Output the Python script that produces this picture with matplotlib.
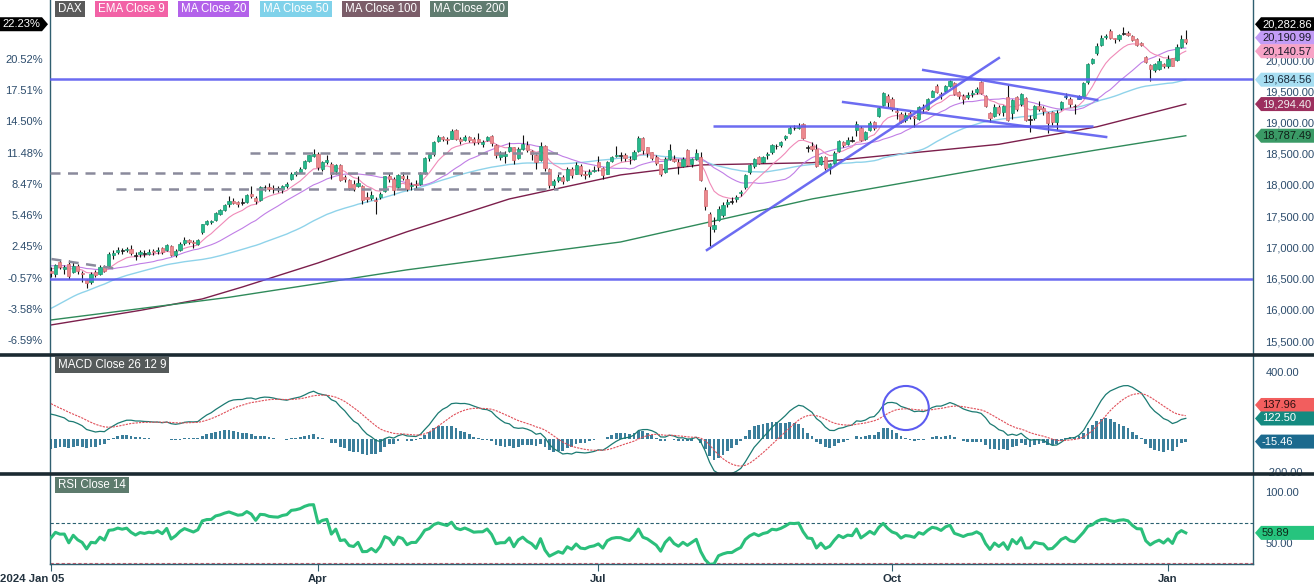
import numpy as np
import pandas as pd
import matplotlib
matplotlib.use('Agg')
import matplotlib.pyplot as plt
from matplotlib.patches import Rectangle, Polygon, Ellipse
from matplotlib.lines import Line2D
from matplotlib.transforms import blended_transform_factory, ScaledTranslation

plt.rcParams['font.family'] = ['Liberation Sans', 'DejaVu Sans']

# ---- data (DAX daily, 2024-01-05 .. 2025-01-08) ----
# closes before the window, only used to warm up the indicators
pre_close = [15247, 15085, 15099, 15070, 15229, 15128, 15424, 15460, 15425, 15186,
             15237, 15251, 15095, 15045, 14798, 14800, 14879, 14892, 14731, 14687,
             14716, 14810,
             14923, 15144, 15189, 15136, 15153, 15229, 15353, 15234, 15345, 15615,
             15748, 15786, 15919, 15901, 15900, 15957, 15994, 16029, 15966, 15992,
             16166, 16215,
             16398, 16405, 16533, 16656, 16628, 16759, 16794, 16792, 16766, 16696,
             16751, 16650, 16744, 16733, 16687, 16706, 16742, 16701, 16752,
             16769, 16538, 16617]

opens = [16617, 16580, 16760, 16650, 16730, 16600, 16700, 16590, 16470, 16440, 16600, 16580, 16700, 16700, 16880, 16930, 16950, 16960, 16980,
         16870, 16900, 16900, 16900, 16940, 16940, 16990, 16960, 17020, 16880, 16960, 17070, 17120, 17080, 17060, 17240, 17380, 17400, 17440, 17540, 17600,
         17690, 17750, 17720, 17720, 17730, 17860, 17790, 17760, 17960, 17970, 17950, 17940, 17930, 17990, 18100, 18170, 18200, 18270, 18390, 18470,
         18490, 18260, 18370, 18340, 18220, 18320, 18130, 18080, 18010, 17990, 17990, 17800, 17790, 17760, 17800, 17900, 18140, 18100, 17970, 18150, 18100,
         17980, 18020, 18020, 18190, 18430, 18500, 18700, 18770, 18740, 18740, 18880, 18740, 18720, 18760, 18740, 18730, 18660, 18720, 18790, 18640, 18450, 18470,
         18540, 18600, 18430, 18580, 18640, 18540, 18480, 18400, 18630, 18250, 18000, 18080, 18130, 18080, 18250, 18180, 18300, 18180, 18170, 18220,
         18370, 18270, 18180, 18380, 18460, 18470, 18480, 18420, 18420, 18540, 18750, 18600, 18520, 18440, 18330, 18200, 18420, 18420, 18360, 18300, 18560, 18330, 18420,
         18450, 17920, 17530, 17300, 17440, 17520, 17690, 17730, 17770, 17870, 17960, 18210, 18300, 18440, 18370, 18480, 18530, 18620, 18640, 18750, 18830, 18910,
         18910, 18980, 18600, 18620, 18570, 18330, 18440, 18290, 18350, 18540, 18680, 18650, 18720, 18880, 18910, 18740, 18880, 19000, 19100, 19280, 19420,
         19380, 19180, 19140, 19040, 19150, 19080, 19060, 19230, 19220, 19410, 19590, 19450, 19510, 19580, 19630, 19480, 19420, 19400, 19450, 19480, 19640, 19420, 19150,
         19100, 19240, 19160, 19400, 19150, 19400, 19290, 19390, 19050, 19070, 19270, 19230, 19150, 19170, 19010, 19230, 19420, 19380, 19260, 19380, 19430,
         19650, 19950, 20110, 20240, 20370, 20470, 20350, 20330, 20420, 20440, 20390, 20340, 20270, 20050, 19920, 19840, 19850, 19930,
         19900, 20030, 20000, 20210, 20340]

highs = [16680, 16730, 16800, 16720, 16800, 16770, 16740, 16620, 16500, 16600, 16640, 16710, 16720, 16930, 16950, 17000, 16990, 17010, 17030,
         16920, 16950, 16960, 16980, 16980, 17000, 17010, 17060, 17040, 16970, 17080, 17160, 17130, 17110, 17130, 17380, 17430, 17440, 17570, 17610, 17700,
         17820, 17790, 17740, 17790, 17860, 17990, 17820, 17980, 18000, 18030, 18000, 17980, 18000, 18040, 18200, 18230, 18280, 18400, 18480, 18570,
         18530, 18380, 18480, 18360, 18330, 18330, 18160, 18100, 18080, 18140, 18000, 17880, 17900, 17800, 17890, 18150, 18190, 18120, 18180, 18200, 18160,
         18050, 18080, 18200, 18450, 18510, 18700, 18800, 18790, 18760, 18890, 18890, 18760, 18800, 18790, 18770, 18830, 18720, 18790, 18800, 18650, 18540, 18550,
         18690, 18610, 18600, 18800, 18700, 18560, 18500, 18680, 18640, 18270, 18100, 18180, 18160, 18280, 18280, 18360, 18330, 18230, 18250, 18300,
         18460, 18290, 18390, 18470, 18620, 18520, 18510, 18470, 18560, 18780, 18760, 18610, 18530, 18480, 18340, 18440, 18660, 18480, 18420, 18450, 18570, 18430, 18580,
         18530, 17960, 17570, 17480, 17660, 17720, 17780, 17800, 17840, 17920, 18180, 18330, 18430, 18460, 18470, 18520, 18650, 18650, 18700, 18800, 18940, 18960,
         18990, 18990, 18640, 18680, 18650, 18460, 18470, 18350, 18540, 18720, 18700, 18760, 18790, 19020, 18940, 18870, 19020, 19020, 19250, 19490, 19450,
         19410, 19230, 19170, 19160, 19190, 19110, 19270, 19290, 19390, 19520, 19620, 19490, 19600, 19675, 19640, 19510, 19460, 19480, 19520, 19560, 19660, 19440, 19170,
         19290, 19280, 19280, 19600, 19380, 19420, 19470, 19400, 19120, 19280, 19340, 19260, 19160, 19180, 19200, 19340, 19470, 19400, 19290, 19440, 19640,
         19960, 20040, 20270, 20400, 20420, 20490, 20360, 20420, 20530, 20460, 20400, 20350, 20290, 20070, 19930, 19960, 20030, 19950,
         20080, 20040, 20260, 20400, 20480]

lows = [16531, 16520, 16660, 16570, 16500, 16590, 16580, 16450, 16345, 16420, 16520, 16560, 16600, 16690, 16820, 16900, 16900, 16920, 16880,
        16800, 16850, 16850, 16880, 16880, 16900, 16900, 16940, 16860, 16850, 16940, 17040, 17060, 16990, 17040, 17220, 17350, 17380, 17420, 17520, 17590,
        17650, 17690, 17650, 17680, 17710, 17790, 17700, 17740, 17900, 17900, 17870, 17890, 17870, 17950, 18080, 18140, 18190, 18260, 18370, 18440,
        18240, 18230, 18340, 18100, 18180, 18060, 18040, 17920, 17900, 17970, 17700, 17730, 17760, 17540, 17780, 17880, 18050, 17840, 17950, 18080, 17900,
        17920, 17950, 18000, 18180, 18390, 18470, 18680, 18700, 18650, 18730, 18720, 18650, 18700, 18680, 18640, 18660, 18600, 18700, 18620, 18430, 18400, 18350,
        18520, 18330, 18410, 18560, 18530, 18400, 18260, 18390, 18220, 17950, 17950, 18040, 18020, 18060, 18110, 18170, 18150, 18100, 18130, 18210,
        18230, 18100, 18170, 18360, 18440, 18380, 18380, 18340, 18400, 18530, 18500, 18450, 18400, 18320, 18140, 18190, 18400, 18360, 18180, 18290, 18300, 18290, 18400,
        18060, 17600, 17024, 17250, 17420, 17480, 17640, 17700, 17720, 17830, 17940, 18180, 18270, 18340, 18350, 18420, 18500, 18580, 18600, 18720, 18810, 18880,
        18900, 18740, 18520, 18540, 18290, 18320, 18240, 18180, 18340, 18530, 18600, 18640, 18690, 18780, 18700, 18720, 18860, 18880, 19080, 19270, 19250,
        19180, 19060, 18990, 19000, 19060, 18930, 19040, 19150, 19200, 19400, 19470, 19380, 19490, 19560, 19440, 19380, 19300, 19370, 19400, 19450, 19460, 19240, 19000,
        19080, 19120, 19110, 19020, 19050, 19180, 19260, 19020, 18850, 19040, 19180, 19120, 18830, 18960, 18880, 19200, 19380, 19250, 19140, 19370, 19420,
        19620, 19930, 20080, 20220, 20340, 20330, 20280, 20310, 20400, 20380, 20300, 20230, 20230, 19950, 19660, 19800, 19840, 19880,
        19880, 19900, 19990, 20190, 20260]

closes = [16594.21, 16716, 16688, 16690, 16547, 16705, 16622, 16572, 16432, 16567, 16555, 16683, 16627, 16890, 16906, 16961, 16942, 16972, 16904,
          16859, 16918, 16904, 16931, 16922, 16964, 16927, 17037, 16881, 16946, 17047, 17117, 17092, 17068, 17118, 17370, 17419, 17424, 17556, 17601, 17678,
          17735, 17716, 17698, 17716, 17842, 17815, 17746, 17965, 17961, 17942, 17936, 17933, 17987, 18015, 18179, 18206, 18261, 18384, 18477, 18492,
          18283, 18367, 18403, 18175, 18318, 18077, 18097, 17954, 17930, 18027, 17766, 17770, 17837, 17737, 17860, 18137, 18088, 17917, 18161, 18118, 17932,
          18001, 18002, 18175, 18430, 18498, 18686, 18773, 18742, 18716, 18869, 18738, 18704, 18768, 18727, 18680, 18691, 18693, 18774, 18677, 18473, 18496, 18498,
          18608, 18405, 18576, 18653, 18557, 18494, 18369, 18630, 18265, 18002, 18068, 18131, 18067, 18254, 18163, 18325, 18177, 18155, 18211, 18235,
          18291, 18164, 18374, 18450, 18475, 18472, 18430, 18407, 18534, 18748, 18560, 18518, 18437, 18354, 18171, 18407, 18558, 18387, 18298, 18418, 18320, 18411, 18508,
          18083, 17661, 17339, 17354, 17615, 17680, 17723, 17726, 17812, 17885, 18166, 18322, 18421, 18357, 18448, 18493, 18633, 18617, 18681, 18782, 18912, 18906,
          18930, 18747, 18592, 18576, 18301, 18443, 18265, 18330, 18518, 18699, 18633, 18726, 18711, 18977, 18720, 18847, 18997, 18918, 19238, 19474, 19325,
          19213, 19164, 19015, 19121, 19104, 19066, 19254, 19210, 19373, 19508, 19486, 19432, 19583, 19657, 19461, 19421, 19378, 19443, 19464, 19531, 19479, 19257, 19078,
          19254, 19148, 19256, 19039, 19362, 19215, 19448, 19033, 19039, 19263, 19211, 19189, 18988, 19004, 19146, 19323, 19406, 19295, 19262, 19425, 19626,
          19934, 20017, 20232, 20359, 20385, 20346, 20329, 20399, 20426, 20405, 20314, 20246, 20242, 19969, 19850, 19930, 19984, 19909,
          20024, 19906, 20216, 20340, 20282.86]

blue_bars = [228, 231]

# long moving averages (bar index -> value)
ma100_idx = [0, 20, 34, 43, 60, 80, 103, 128, 146, 171, 213, 235, 255]
ma100_val = [15757, 15990, 16174, 16365, 16750, 17250, 17775, 18160, 18320, 18355, 18650, 18930, 19294.40]
ma200_idx = [0, 40, 80, 128, 171, 213, 235, 255]
ma200_val = [15837, 16200, 16640, 17086, 17775, 18300, 18560, 18787.49]

tick_idx = [0, 60, 123, 189, 251]
tick_lbl = ['2024 Jan 05', 'Apr', 'Jul', 'Oct', 'Jan']
price_ticks = [15500, 16000, 16500, 17000, 17500, 18000, 18500, 19000, 19500, 20000]
macd_ticks = [-200, 400]
rsi_ticks = [50, 100]

# last values shown in the side tags
last_close = 20282.86
last_ma20 = 20190.99
last_ema9 = 20140.57
last_ma50 = 19684.56
last_ma100 = 19294.40
last_ma200 = 18787.49
last_signal = 137.96
last_macd = 122.50
last_hist = -15.46
last_rsi = 59.89

# drawn lines (bar index, price)
h_levels = [19688, 16493]
h_segment = (148.8, 234.2, 18943)
trend_lines = [((147.4, 16957), (213.0, 20032)),
               ((196.0, 19840), (235.1, 19359)),
               ((178.0, 19327), (237.1, 18767))]
dash_levels = [(44.7, 113.9, 18511), (-0.2, 114.6, 18190), (14.6, 113.9, 17942)]
dash_slope = ((0.1, 16813), (15.1, 16653))
macd_circle = (192.1, 185, 10.3, 263)

# ---- indicators ----
full = pd.Series(pre_close + closes, dtype=float)
n0 = len(pre_close)
ema9 = full.ewm(span=9, adjust=False).mean().values[n0:]
ma20 = full.rolling(20).mean().values[n0:]
ma50 = full.rolling(50, min_periods=1).mean().values[n0:]
macd = (full.ewm(span=12, adjust=False).mean() - full.ewm(span=26, adjust=False).mean())
signal = macd.ewm(span=9, adjust=False).mean()
hist = (macd - signal).values[n0:]
macd = macd.values[n0:]
signal = signal.values[n0:]
delta = full.diff()
gain = delta.clip(lower=0).ewm(alpha=1/14, adjust=False).mean()
loss = (-delta.clip(upper=0)).ewm(alpha=1/14, adjust=False).mean()
rsi = (100 - 100 / (1 + gain / loss)).values[n0:]

# ---- figure ----
W, H = 1314, 585
fig = plt.figure(figsize=(W / 100, H / 100), dpi=100)


def fx(px):
    return px / W


def fy(py):
    return 1 - py / H


L, R = 50, 1253
ax1 = fig.add_axes([fx(L), fy(355), fx(R - L), 355 / H])
ax2 = fig.add_axes([fx(L), fy(474), fx(R - L), 119 / H])
ax3 = fig.add_axes([fx(L), fy(564), fx(R - L), 90 / H])

AXC = '#2f5f70'
LBL = '#2c4c6c'
for a in (ax1, ax2, ax3):
    a.set_xlim(-0.22, 270.1)
    for s in a.spines.values():
        s.set_color(AXC)
        s.set_linewidth(1)
    a.spines['top'].set_visible(False)
    a.yaxis.tick_right()
    a.tick_params(axis='y', length=0, pad=9, labelsize=8, labelcolor=LBL)
    a.set_facecolor('white')
ax1.spines['bottom'].set_visible(False)
ax2.spines['bottom'].set_visible(False)
ax1.set_xticks([])
ax2.set_xticks([])

x = np.arange(len(closes))
o = np.array(opens, float)
c = np.array(closes, float)
hi = np.array(highs, float)
lo = np.array(lows, float)

# candles
face = np.where(c > o, '#27b88c', '#ec898e').astype(object)
edge = np.where(c > o, '#1c9a72', '#d46c74').astype(object)
face[np.abs(c - o) < 12] = '#222222'
edge[np.abs(c - o) < 12] = '#222222'
face[blue_bars] = '#3b76d6'
edge[blue_bars] = '#2c5fb5'
ax1.vlines(x, lo, hi, color='#111111', lw=0.8, zorder=3)
ax1.bar(x, np.maximum(np.abs(c - o), 10), bottom=np.minimum(o, c), width=0.72,
        color=list(face), edgecolor=list(edge), lw=0.5, zorder=4)

# moving averages
ax1.plot(ma100_idx, ma100_val, color='#7c1f4c', lw=1.0, zorder=2)
ax1.plot(ma200_idx, ma200_val, color='#2f8a5a', lw=1.0, zorder=2)
ax1.plot(x, ma50, color='#8fd3ea', lw=1.0, zorder=2)
ax1.plot(x, ma20, color='#c07ee6', lw=0.8, zorder=2)
ax1.plot(x, ema9, color='#f08ab8', lw=0.8, zorder=2)

# drawings
BLUE = '#5c5cf0'
for lv in h_levels:
    ax1.axhline(lv, color=BLUE, lw=1.8, alpha=0.9, zorder=5)
ax1.hlines(h_segment[2], h_segment[0], h_segment[1], color=BLUE, lw=1.8, alpha=0.9, zorder=5)
for (xa, ya), (xb, yb) in trend_lines:
    ax1.plot([xa, xb], [ya, yb], color=BLUE, lw=1.8, alpha=0.9, zorder=5)
for xa, xb, lv in dash_levels:
    ax1.hlines(lv, xa, xb, color='#8a8a9c', lw=1.8, linestyles=(0, (4, 3)), zorder=5)
ax1.plot([dash_slope[0][0], dash_slope[1][0]], [dash_slope[0][1], dash_slope[1][1]],
         color='#8a8a9c', lw=1.8, ls=(0, (4, 3)), zorder=5)

ax1.set_ylim(15276, 20961)
ax1.set_yticks(price_ticks)
ax1.set_yticklabels([f'{p:,.2f}' for p in price_ticks])
base = closes[0]
tr = blended_transform_factory(ax1.transAxes, ax1.transData)
for p in price_ticks:
    ax1.text(-0.006, p, f'{(p / base - 1) * 100:.2f}%', transform=tr, ha='right', va='center',
             fontsize=8, color=LBL, clip_on=False)

# MACD
ax2.bar(x, hist, width=0.62, color='#3b7e9b', zorder=2)
ax2.plot(x, macd, color='#1b7a72', lw=0.9, zorder=3)
ax2.plot(x, signal, color='#e0505a', lw=0.8, ls=(0, (2, 1)), zorder=3)
cx, cy, cw, ch = macd_circle
ax2.add_patch(Ellipse((cx, cy), cw, ch, fill=False, ec=BLUE, lw=1.5, zorder=5))
ax2.set_ylim(-209, 501.5)
ax2.set_yticks(macd_ticks)
ax2.set_yticklabels([f'{v:.2f}' for v in macd_ticks])

# RSI
ax3.plot(x, rsi, color='#2bbf7b', lw=2.2, zorder=3)
ax3.axhline(70, color='#2a6070', lw=0.8, ls=(0, (3, 2)))
ax3.axhline(30, color='#d06070', lw=0.8, ls=(0, (3, 2)))
ax3.set_ylim(29.4, 117.6)
ax3.set_yticks(rsi_ticks)
ax3.set_yticklabels([f'{v:.2f}' for v in rsi_ticks])
ax3.set_xticks(tick_idx)
ax3.set_xticklabels(tick_lbl, fontsize=8.2, fontweight='bold', color='#22323f')
ax3.tick_params(axis='x', length=5, color=AXC, pad=2)
first = ax3.get_xticklabels()[0]
first.set_transform(first.get_transform() + ScaledTranslation(-0.19, 0, fig.dpi_scale_trans))

# separators across the whole width
for yy in (355, 474):
    fig.add_artist(Line2D([0, 1], [fy(yy), fy(yy)], transform=fig.transFigure,
                          color='#1b2a31', lw=2.6, zorder=8))

renderer = fig.canvas.get_renderer()


def label_box(x_px, y_px, text, fc, tc='white'):
    t = fig.text(fx(x_px), fy(y_px), text, ha='left', va='center', fontsize=8.3,
                 color=tc, zorder=7)
    bb = t.get_window_extent(renderer)
    x0 = bb.x0 - 3
    w = bb.width + 6
    fig.add_artist(Rectangle((fx(x0), fy(y_px + 8)), fx(w), 16 / H, transform=fig.transFigure,
                             fc=fc, ec='none', zorder=6))


label_box(58, 9, 'DAX', '#5a5a5a')
label_box(98, 9, 'EMA Close 9', '#f262a6')
label_box(181, 9, 'MA Close 20', '#b362ea')
label_box(263, 9, 'MA Close 50', '#80d2ea')
label_box(345, 9, 'MA Close 100', '#7b5d69')
label_box(433, 9, 'MA Close 200', '#607c70')
label_box(58, 365, 'MACD Close 26 12 9', '#555a5a')
label_box(58, 485, 'RSI Close 14', '#5d7b6d')


def stacked(ax, vals, gap=13.5):
    ys = [H - ax.transData.transform((0, v))[1] for v in vals]
    out = [0] * len(vals)
    prev = None
    for i in np.argsort(vals):
        y = ys[i]
        if prev is not None and y > prev - gap:
            y = prev - gap
        out[i] = y
        prev = y
    return out


def tag(y_px, text, fc, tc, left=False):
    hh = 7
    if left:
        pts = [(-2, y_px - hh), (42, y_px - hh), (48, y_px), (42, y_px + hh), (-2, y_px + hh)]
        tx, ha = 40, 'right'
    else:
        pts = [(1255, y_px), (1261, y_px - hh), (1320, y_px - hh), (1320, y_px + hh), (1261, y_px + hh)]
        tx, ha = 1262, 'left'
    fig.add_artist(Polygon([(fx(a), fy(b)) for a, b in pts], closed=True, transform=fig.transFigure,
                           fc=fc, ec='none', zorder=9))
    fig.text(fx(tx), fy(y_px), text, ha=ha, va='center', fontsize=8, color=tc, zorder=10)


main_tags = [(last_close, '#000000', 'white'), (last_ma20, '#c39cf6', '#1a1a2a'),
             (last_ema9, '#f7a3c6', '#1a1a2a'), (last_ma50, '#a7def2', '#1a2a3a'),
             (last_ma100, '#9c2f5e', '#f0f0f0'), (last_ma200, '#3a9a66', '#102018')]
ys = stacked(ax1, [v for v, _, _ in main_tags])
for (v, fc, tc), yp in zip(main_tags, ys):
    tag(yp, f'{v:,.2f}', fc, tc)
tag(ys[0], f'{(last_close / base - 1) * 100:.2f}%', '#000000', 'white', left=True)

macd_tags = [(last_signal, '#f25e5e', '#2a1010'), (last_macd, '#148a80', 'white'),
             (last_hist, '#1c6a8e', 'white')]
ys = stacked(ax2, [v for v, _, _ in macd_tags])
for (v, fc, tc), yp in zip(macd_tags, ys):
    tag(yp, f'{v:.2f}', fc, tc)

ys = stacked(ax3, [last_rsi])
tag(ys[0], f'{last_rsi:.2f}', '#26c47e', '#0e2a1a')

fig.savefig('out.png', dpi=100)
